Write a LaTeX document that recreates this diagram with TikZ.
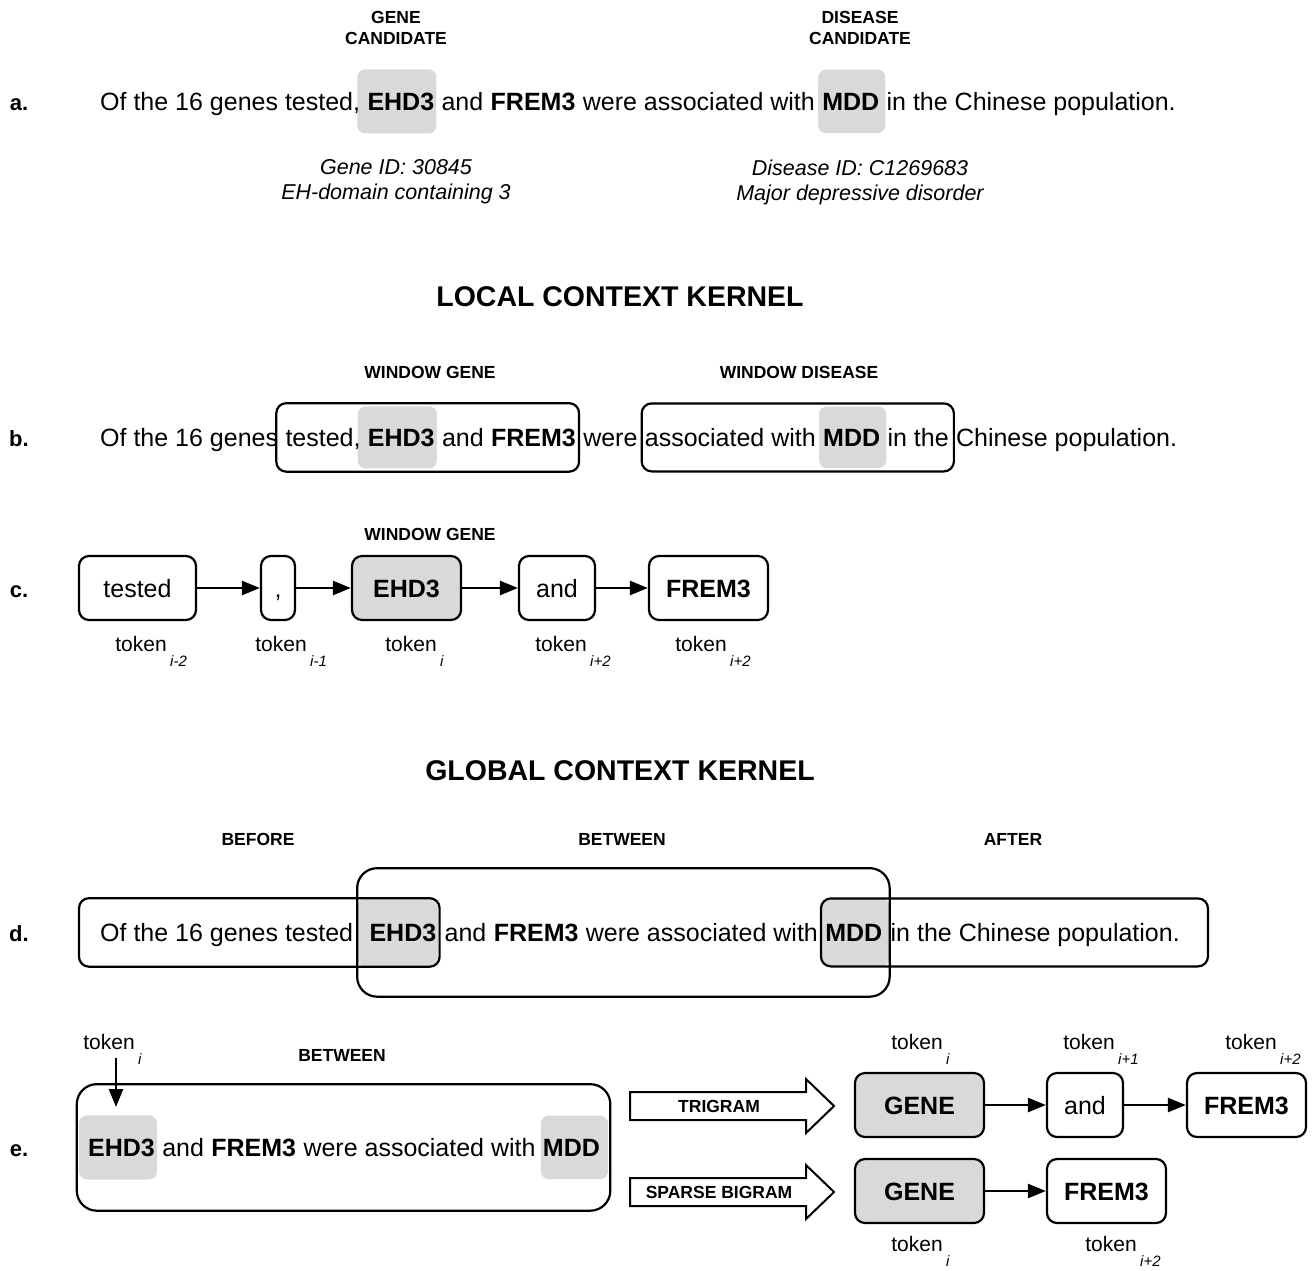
\documentclass[tikz,border=0pt]{standalone}
\usepackage{fontspec}
\setmainfont{Liberation Sans}
\usetikzlibrary{positioning,fit,backgrounds,arrows.meta}
\definecolor{hlgray}{RGB}{217,217,217}
\newcommand{\tokn}[1]{token\rlap{\smash{\,\raisebox{-15pt}{\fontsize{15}{15}\selectfont\itshape #1}}}}
\tikzset{
  sent/.style={font=\fontsize{25}{30}\selectfont, inner sep=0pt},
  bsent/.style={sent, font=\fontsize{25}{30}\selectfont\bfseries},
  rowlab/.style={font=\fontsize{22}{26}\selectfont\bfseries, anchor=base},
  lab/.style={font=\fontsize{17.5}{21}\selectfont\bfseries, align=center},
  kernel/.style={font=\fontsize{28.5}{32}\selectfont\bfseries},
  info/.style={font=\fontsize{21.5}{25}\selectfont\itshape, align=center},
  hl/.style={fill=hlgray, rounded corners=8pt, inner xsep=0pt, inner ysep=23pt},
  winbox/.style={draw, line width=2.2pt, rounded corners=10pt, inner sep=0pt},
  tokbox/.style={draw, line width=2.2pt, rounded corners=10pt, minimum height=64pt,
    text height=18pt, text depth=0pt, inner sep=0pt, font=\fontsize{25}{30}\selectfont},
  btokbox/.style={tokbox, font=\fontsize{25}{30}\selectfont\bfseries},
  gtokbox/.style={btokbox, fill=hlgray},
  toklab/.style={font=\fontsize{21}{25}\selectfont, inner sep=0pt},
  arr/.style={-{Triangle[length=18pt,width=14pt]}, line width=2.5pt},
  bigarr/.style={draw, line width=2pt, fill=white, line join=miter},
}
\begin{document}
\begin{tikzpicture}[x=1pt,y=-1pt]
    \useasboundingbox (0,0) rectangle (1313,1270);
    % a. candidates
    \node[rowlab] (la) at (19,110) {a.};
    \node[sent, anchor=base west] (a0) at (100,110) {Of the 16 genes tested,};
    \node[bsent, base right=7pt of a0] (a1) {EHD3};
    \node[sent, base right=7pt of a1] (a2) {and};
    \node[bsent, base right=7pt of a2] (a3) {FREM3};
    \node[sent, base right=7pt of a3] (a4) {were associated with};
    \node[bsent, base right=7pt of a4] (a5) {MDD};
    \node[sent, base right=7pt of a5] (a6) {in the Chinese population.};
    \begin{scope}[on background layer]
        \node[hl, fit={([xshift=-10pt]a1.west) ([xshift=2pt]a1.east) (a1)}] (a1h) {};
        \node[hl, fit={([xshift=-4pt]a5.west) ([xshift=6pt]a5.east) (a5)}] (a5h) {};
    \end{scope}
    \node[lab] (gc) at (396,28) {GENE\\CANDIDATE};
    \node[lab] (dc) at (860,28) {DISEASE\\CANDIDATE};
    \node[info] (gid) at (396,182) {Gene ID: 30845\\EH-domain containing 3};
    \node[info] (did) at (860,182) {Disease ID: C1269683\\Major depressive disorder};

    \node[kernel] (lck) at (620,297) {LOCAL CONTEXT KERNEL};

    % b. windows
    \node[rowlab] (lb) at (19,446) {b.};
    \node[sent, anchor=base west] (b0) at (100,446) {Of the 16 genes};
    \node[sent, base right=7pt of b0] (b1) {tested,};
    \node[bsent, base right=7pt of b1] (b2) {EHD3};
    \node[sent, base right=7pt of b2] (b3) {and};
    \node[bsent, base right=7pt of b3] (b4) {FREM3};
    \node[sent, base right=7pt of b4] (b5) {were};
    \node[sent, base right=7pt of b5] (b6) {associated with};
    \node[bsent, base right=7pt of b6] (b7) {MDD};
    \node[sent, base right=7pt of b7] (b8) {in the};
    \node[sent, base right=7pt of b8] (b9) {Chinese population.};
    \begin{scope}[on background layer]
        \node[hl, inner ysep=22pt, fit={([xshift=-10pt]b2.west) ([xshift=2pt]b2.east) (b2)}] (b2h) {};
        \node[hl, inner ysep=22pt, fit={([xshift=-4pt]b7.west) ([xshift=6pt]b7.east) (b7)}] (b7h) {};
    \end{scope}
    \node[winbox, inner ysep=3pt, fit={([xshift=-9pt]b1.west) ([xshift=3pt]b4.east) (b2h)}] (wg) {};
    \node[winbox, inner ysep=3pt, fit={([xshift=-3pt]b6.west) ([xshift=5pt]b8.east) (b7h)}] (wd) {};
    \node[lab] (wgl) at (430,372) {WINDOW GENE};
    \node[lab] (wdl) at (799,372) {WINDOW DISEASE};

    % c. tokens
    \node[lab] (wgc) at (430,534) {WINDOW GENE};
    \node[rowlab] (lc) at (19,597) {c.};
    \node[tokbox, minimum width=117pt] (c1) at (137.5,588) {tested};
    \node[tokbox, minimum width=34pt] (c2) at (278,588) {,};
    \node[gtokbox, minimum width=109pt] (c3) at (406.5,588) {EHD3};
    \node[tokbox, minimum width=76pt] (c4) at (557,588) {and};
    \node[btokbox, minimum width=119pt] (c5) at (708.5,588) {FREM3};
    \draw[arr] (c1) -- (c2);
    \draw[arr] (c2) -- (c3);
    \draw[arr] (c3) -- (c4);
    \draw[arr] (c4) -- (c5);
    \node[toklab] (c1l) at (141,644) {\tokn{i-2}};
    \node[toklab] (c2l) at (281,644) {\tokn{i-1}};
    \node[toklab] (c3l) at (411,644) {\tokn{i}};
    \node[toklab] (c4l) at (561,644) {\tokn{i+2}};
    \node[toklab] (c5l) at (701,644) {\tokn{i+2}};

    \node[kernel] (gck) at (620,771) {GLOBAL CONTEXT KERNEL};

    % d. before / between / after
    \node[lab] (bfl) at (258,839) {BEFORE};
    \node[lab] (btl) at (622,839) {BETWEEN};
    \node[lab] (afl) at (1013,839) {AFTER};
    \node[rowlab] (ld) at (19,941) {d.};
    \node[sent, anchor=base west] (d0) at (100,941) {Of the 16 genes tested};
    \node[bsent, base right=16pt of d0] (d1) {EHD3};
    \node[sent, base right=8pt of d1] (d2) {and};
    \node[bsent, base right=7pt of d2] (d3) {FREM3};
    \node[sent, base right=7pt of d3] (d4) {were associated with};
    \node[bsent, base right=7pt of d4] (d5) {MDD};
    \node[sent, base right=8pt of d5] (d6) {in the Chinese population.};
    \begin{scope}[on background layer]
        \node[hl, inner ysep=25pt, fit={([xshift=-12pt]d1.west) ([xshift=3pt]d1.east) (d1)}] (d1h) {};
        \node[hl, inner ysep=25pt, fit={([xshift=-4pt]d5.west) ([xshift=7pt]d5.east) (d5)}] (d5h) {};
    \end{scope}
    \node[winbox, fit={([xshift=-21pt]d0.west) (d1h)}] (bef) {};
    \node[winbox, rounded corners=20pt, inner ysep=30pt, fit={(d1h) (d5h)}] (betw) {};
    \node[winbox, fit={(d5h) ([xshift=28pt]d6.east)}] (aft) {};

    % e. n-grams
    \node[lab] (bte) at (342,1055) {BETWEEN};
    \node[rowlab] (le) at (19,1156) {e.};
    \node[bsent, anchor=base west] (e0) at (88,1156) {EHD3};
    \node[sent, base right=7pt of e0] (e1) {and};
    \node[bsent, base right=7pt of e1] (e2) {FREM3};
    \node[sent, base right=7pt of e2] (e3) {were associated with};
    \node[bsent, base right=7pt of e3] (e4) {MDD};
    \begin{scope}[on background layer]
        \node[hl, fit={([xshift=-9pt]e0.west) ([xshift=2pt]e0.east) (e0)}] (e0h) {};
        \node[hl, fit={([xshift=-2pt]e4.west) ([xshift=8pt]e4.east) (e4)}] (e4h) {};
    \end{scope}
    \node[winbox, rounded corners=20pt, inner xsep=2pt, inner ysep=31pt, fit={(e0h) (e4h)}] (ebox) {};
    \node[toklab] (etok) at (109,1042) {\tokn{i}};
    \coordinate (etip) at (116,1107);
    \draw[arr] ([yshift=-8pt]etok.south -| etip) -- (etip);

    \draw[bigarr] (630,1092) -- (806,1092) -- (806,1079) -- (834,1106) -- (806,1133) -- (806,1120) -- (630,1120) -- cycle;
    \node[lab] (trig) at (719,1106) {TRIGRAM};
    \draw[bigarr] (630,1178) -- (806,1178) -- (806,1165) -- (834,1192) -- (806,1219) -- (806,1206) -- (630,1206) -- cycle;
    \node[lab] (sbig) at (719,1192) {SPARSE BIGRAM};

    \node[gtokbox, minimum width=129pt] (t1) at (919.5,1105) {GENE};
    \node[tokbox, minimum width=76pt] (t2) at (1085,1105) {and};
    \node[btokbox, minimum width=119pt] (t3) at (1246.5,1105) {FREM3};
    \draw[arr] (t1) -- (t2);
    \draw[arr] (t2) -- (t3);
    \node[toklab] (t1l) at (917,1042) {\tokn{i}};
    \node[toklab] (t2l) at (1089,1042) {\tokn{i+1}};
    \node[toklab] (t3l) at (1251,1042) {\tokn{i+2}};

    \node[gtokbox, minimum width=129pt] (s1) at (919.5,1191) {GENE};
    \node[btokbox, minimum width=119pt] (s2) at (1106.5,1191) {FREM3};
    \draw[arr] (s1) -- (s2);
    \node[toklab] (s1l) at (917,1244) {\tokn{i}};
    \node[toklab] (s2l) at (1111,1244) {\tokn{i+2}};
\end{tikzpicture}
\end{document}
